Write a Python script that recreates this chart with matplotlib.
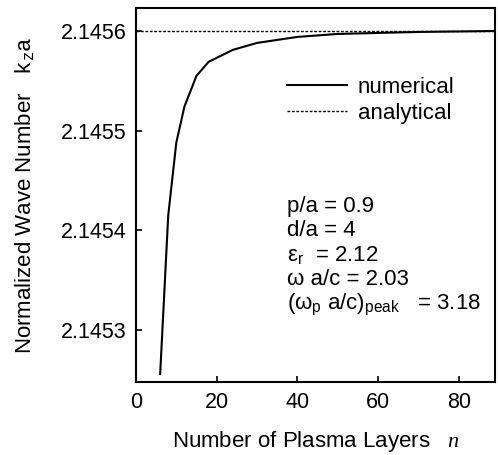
import matplotlib
matplotlib.use("Agg")
import matplotlib.pyplot as plt

plt.rcParams['font.family'] = ['Liberation Sans', 'DejaVu Sans']
plt.rcParams['mathtext.fontset'] = 'custom'
plt.rcParams['mathtext.rm'] = 'Liberation Sans'
plt.rcParams['mathtext.it'] = 'Liberation Serif:italic'
plt.rcParams['mathtext.tt'] = 'Liberation Mono'

# numerical k_z a versus number of plasma layers
n_layers = [6, 8, 10, 12, 15, 18, 24, 30, 40, 50, 60, 70, 80, 90]
kza_num = [2.145256, 2.145415, 2.145488, 2.145524, 2.145555, 2.145569,
           2.145581, 2.145588, 2.145594, 2.145597, 2.145598, 2.145599,
           2.1455995, 2.1456]
kza_analytical = 2.1456

xticks = [0, 20, 40, 60, 80]
yticks = [2.1453, 2.1454, 2.1455, 2.1456]
ytick_labels = ["2.1453", "2.1454", "2.1455", "2.1456"]

params = [
    "p/a = 0.9",
    "d/a = 4",
    r"ε$_\mathrm{r}$  = 2.12",
    "ω a/c = 2.03",
    r"(ω$_\mathrm{p}$ a/c)$_\mathrm{peak}$   = 3.18",
]

fig = plt.figure(figsize=(4.98, 4.55), dpi=100)
ax = fig.add_axes([0.273, 0.1604, 0.721, 0.822])

ax.plot(n_layers, kza_num, color='black', lw=1.5, label='numerical')
ax.axhline(kza_analytical, color='black', lw=1.0, ls=(0, (2, 1.2)),
           label='analytical')

ax.set_xlim(0, 89)
ax.set_ylim(2.145248, 2.145623)
ax.set_xticks(xticks)
ax.set_yticks(yticks)
ax.set_yticklabels(ytick_labels)
ax.tick_params(direction='in', length=4, width=1.2, labelsize=15.5, pad=7)
for s in ax.spines.values():
    s.set_linewidth(1.5)

ax.set_xlabel(r"Number of Plasma Layers   $n$", fontsize=16, labelpad=12)
ax.set_ylabel(r"Normalized Wave Number   $\mathtt{k_z a}$", fontsize=16,
              labelpad=17)

ax.legend(loc='upper left', bbox_to_anchor=(0.42, 0.815), frameon=False,
          fontsize=16, handlelength=2.7, handletextpad=0.5,
          labelspacing=0.2, borderpad=0, borderaxespad=0)

y0 = 0.4545
for i, t in enumerate(params):
    ax.text(0.42, y0 - i * 0.065, t, transform=ax.transAxes, fontsize=16,
            va='baseline', ha='left')

fig.savefig("out.png", dpi=100)
